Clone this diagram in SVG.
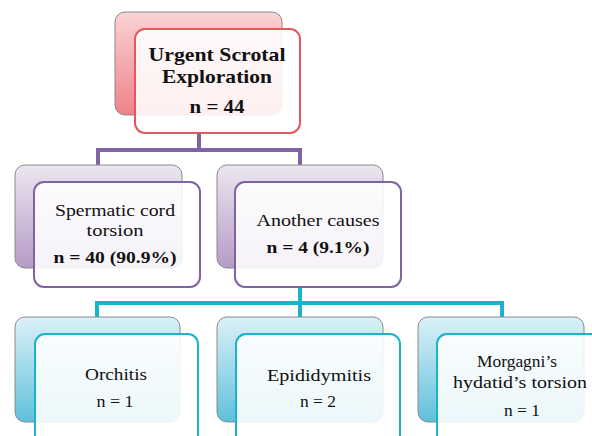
<svg xmlns="http://www.w3.org/2000/svg" width="592" height="436" viewBox="0 0 592 436">
<defs>
<linearGradient id="gRed" x1="0" y1="0" x2="0" y2="1"><stop offset="0" stop-color="#fad3d5"/><stop offset="1" stop-color="#ee8289"/></linearGradient>
<linearGradient id="gPur" x1="0" y1="0" x2="0" y2="1"><stop offset="0" stop-color="#ede6f1"/><stop offset="1" stop-color="#b59bc6"/></linearGradient>
<linearGradient id="gCy" x1="0" y1="0" x2="0" y2="1"><stop offset="0" stop-color="#dcf1f8"/><stop offset="1" stop-color="#5fc0db"/></linearGradient>
</defs>
<style>
.back{stroke:#8a8a8a;stroke-width:1;}
.front{fill:#ffffff;fill-opacity:0.88;stroke-width:2;}
.red{stroke:#e5575c;}
.pur{stroke:#8064a2;}
.cy{stroke:#1ab3cb;}
text{font-family:"Liberation Serif","DejaVu Serif",serif;fill:#111;text-anchor:middle;}
.b{font-weight:bold;}
.t1{font-size:19px;}
.t2{font-size:17.5px;}
.conn{fill:none;stroke-width:4;}
</style>
<rect width="592" height="436" fill="#ffffff"/>
<g id="connectors">
<path class="conn" d="M199,133 V150 M98,150 H302 M98,148 V166 M300,148 V166" stroke="#8064a2"/>
<path class="conn" d="M300,287 V303 M97,303 H502 M97,301 V318 M300,301 V318 M502,301 V318" stroke="#1ab3cb"/>
</g>
<g id="n_root">
<rect class="back" x="115" y="12" width="167" height="103" rx="10" fill="url(#gRed)"/>
<rect class="front red" x="135" y="29" width="165" height="104" rx="10"/>
<text class="b t1" x="217" y="61" textLength="137" lengthAdjust="spacingAndGlyphs">Urgent Scrotal</text>
<text class="b t1" x="217" y="83" textLength="110" lengthAdjust="spacingAndGlyphs">Exploration</text>
<text class="b t1" x="217" y="113" textLength="55" lengthAdjust="spacingAndGlyphs">n = 44</text>
</g>
<g id="n_torsion">
<rect class="back" x="15" y="165" width="167" height="103" rx="10" fill="url(#gPur)"/>
<rect class="front pur" x="34" y="182" width="166" height="105" rx="10"/>
<text class="t2" x="115" y="216" textLength="120" lengthAdjust="spacingAndGlyphs">Spermatic cord</text>
<text class="t2" x="115" y="236" textLength="57" lengthAdjust="spacingAndGlyphs">torsion</text>
<text class="b t2" x="115" y="263" textLength="123" lengthAdjust="spacingAndGlyphs">n = 40 (90.9%)</text>
</g>
<g id="n_other">
<rect class="back" x="217" y="165" width="166" height="103" rx="10" fill="url(#gPur)"/>
<rect class="front pur" x="235" y="182" width="166" height="105" rx="10"/>
<text class="t2" x="318" y="226" textLength="123" lengthAdjust="spacingAndGlyphs">Another causes</text>
<text class="b t2" x="318" y="253" textLength="103" lengthAdjust="spacingAndGlyphs">n = 4 (9.1%)</text>
</g>
<g id="n_orchitis">
<rect class="back" x="15" y="317" width="165" height="105" rx="10" fill="url(#gCy)"/>
<rect class="front cy" x="35" y="334" width="163" height="112" rx="10"/>
<text class="t2" x="116" y="380" textLength="62" lengthAdjust="spacingAndGlyphs">Orchitis</text>
<text class="t2" x="115" y="407" textLength="37" lengthAdjust="spacingAndGlyphs">n = 1</text>
</g>
<g id="n_epi">
<rect class="back" x="217" y="317" width="166" height="105" rx="10" fill="url(#gCy)"/>
<rect class="front cy" x="236" y="334" width="164" height="112" rx="10"/>
<text class="t2" x="319" y="381" textLength="104" lengthAdjust="spacingAndGlyphs">Epididymitis</text>
<text class="t2" x="318" y="407" textLength="36" lengthAdjust="spacingAndGlyphs">n = 2</text>
</g>
<g id="n_morgagni">
<rect class="back" x="418" y="317" width="166" height="105" rx="10" fill="url(#gCy)"/>
<rect class="front cy" x="437" y="334" width="164" height="112" rx="10"/>
<text class="t2" x="517" y="367" textLength="80" lengthAdjust="spacingAndGlyphs">Morgagni’s</text>
<text class="t2" x="520" y="388" textLength="134" lengthAdjust="spacingAndGlyphs">hydatid’s torsion</text>
<text class="t2" x="522" y="416" textLength="36" lengthAdjust="spacingAndGlyphs">n = 1</text>
</g>
</svg>
